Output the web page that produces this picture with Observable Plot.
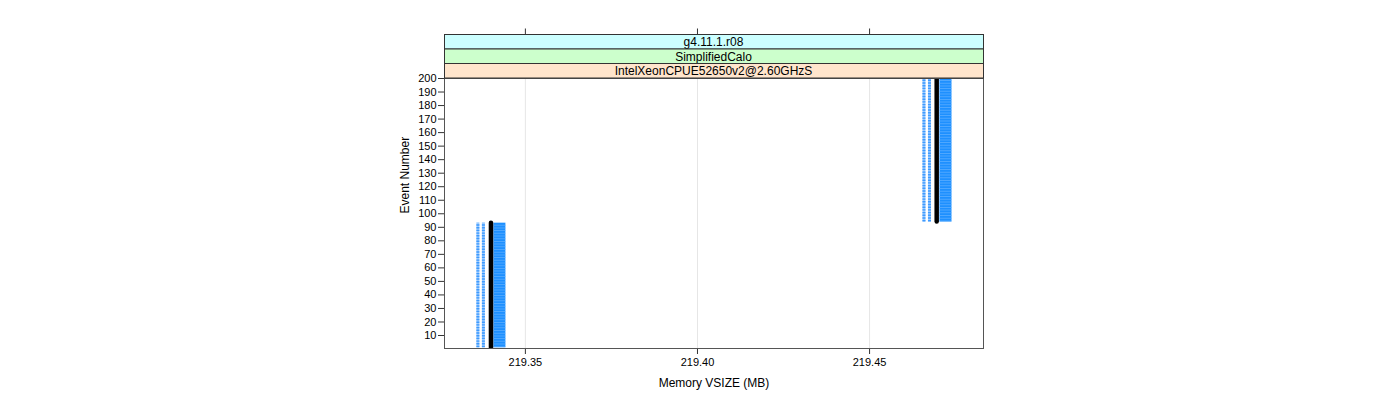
<!DOCTYPE html>
<html>
<head>
<meta charset="utf-8">
<script src="https://cdn.jsdelivr.net/npm/d3@7"></script>
<script src="https://cdn.jsdelivr.net/npm/@observablehq/plot@0.6"></script>
<style>
  body { margin: 0; background: #fff; }
  #chart svg { display: block; }
</style>
</head>
<body>
<div id="chart"></div>
<script>
// Strip labels (top to bottom)
const stripLabels = ["g4.11.1.r08", "SimplifiedCalo", "IntelXeonCPUE52650v2@2.60GHzS"];
const stripColors = ["#ccffff", "#ccffcc", "#ffe5cc"];

// X ticks
const xTicks = [219.35, 219.40, 219.45];
// Y ticks
const yTicks = [10, 20, 30, 40, 50, 60, 70, 80, 90, 100, 110, 120, 130, 140, 150, 160, 170, 180, 190, 200];

// Event ranges of the two memory plateaus
const segStart = [1, 94];
const segEnd = [93, 200];
// Memory values (MB) per series, per plateau
const runA = [219.3362, 219.4658];     // light dashed
const runB = [219.3378, 219.4674];     // light dashed
const meanV = [219.3400, 219.4695];    // black
const bandLo = [219.3407, 219.4703];   // blue band
const bandHi = [219.3442, 219.4738];

const segs = segStart.map((s, i) => ({
  y1: s, y2: segEnd[i], a: runA[i], b: runB[i], m: meanV[i], lo: bandLo[i], hi: bandHi[i],
  c: (bandLo[i] + bandHi[i]) / 2
}));

const font = "'Liberation Sans', Arial, Helvetica, sans-serif";

const decor = (index, scales, values, dimensions) => {
  const {marginLeft, marginTop, width, marginRight} = dimensions;
  const x0 = marginLeft, x1 = width - marginRight;
  const g = d3.create("svg:g");
  const sh = 14.5;
  const top = marginTop - 3 * sh;
  g.selectAll("line.tt").data(xTicks).join("line")
    .attr("x1", d => scales.x(d) + 0.5).attr("x2", d => scales.x(d) + 0.5)
    .attr("y1", top - 6).attr("y2", top)
    .attr("stroke", "#333");
  stripLabels.forEach((lab, i) => {
    const y = top + i * sh;
    g.append("rect").attr("x", x0 + 0.5).attr("y", y).attr("width", x1 - x0).attr("height", sh)
      .attr("fill", stripColors[i]).attr("stroke", "#333").attr("stroke-width", 1);
    g.append("text").attr("x", (x0 + x1) / 2).attr("y", y + sh / 2 + 4.5)
      .attr("text-anchor", "middle").attr("font-family", font).attr("font-size", 12)
      .attr("fill", "#000").text(lab);
  });
  return g.node();
};

const frame = (index, scales, values, dimensions) => {
  const {marginLeft, marginTop, width, height, marginRight, marginBottom} = dimensions;
  const g = d3.create("svg:g");
  g.append("rect").attr("x", marginLeft + 0.5).attr("y", marginTop + 0.5)
    .attr("width", width - marginRight - marginLeft).attr("height", height - marginBottom - marginTop)
    .attr("fill", "none").attr("stroke", "#555");
  return g.node();
};

const chart = Plot.plot({
  width: 1400,
  height: 400,
  marginLeft: 444,
  marginRight: 417,
  marginTop: 78,
  marginBottom: 52,
  style: {fontFamily: font, fontSize: "11px", background: "#fff", color: "#000"},
  x: {domain: [219.3265, 219.4831], label: null},
  y: {domain: [0.4, 200], label: null},
  marks: [
    Plot.ruleX(xTicks, {stroke: "#e6e6e6", strokeOpacity: 1}),
    Plot.ruleX(segs, {x: "c", y1: "y1", y2: "y2", stroke: "#1e90ff", strokeWidth: 12}),
    Plot.ruleX(segs, {x: "c", y1: "y1", y2: "y2", stroke: "#62b0ff", strokeWidth: 12, strokeDasharray: "1,1.7", strokeOpacity: 0.7}),
    Plot.ruleX(segs, {x: "a", y1: "y1", y2: "y2", stroke: "#9ccbff", strokeWidth: 3}),
    Plot.ruleX(segs, {x: "a", y1: "y1", y2: "y2", stroke: "#3d9aff", strokeWidth: 3, strokeDasharray: "1.4,1.3"}),
    Plot.ruleX(segs, {x: "b", y1: "y1", y2: "y2", stroke: "#9ccbff", strokeWidth: 3}),
    Plot.ruleX(segs, {x: "b", y1: "y1", y2: "y2", stroke: "#3d9aff", strokeWidth: 3, strokeDasharray: "1.4,1.3"}),
    Plot.ruleX(segs, {x: "m", y1: "y1", y2: "y2", stroke: "#000", strokeWidth: 4.5, strokeLinecap: "round", clip: "frame"}),
    Plot.axisX(xTicks, {tickSize: 6, tickPadding: 4, tickFormat: d3.format(".2f"), stroke: "#333", fontSize: 11, label: null}),
    Plot.axisY(yTicks, {tickSize: 6, tickPadding: 2, stroke: "#333", fontSize: 11, label: null}),
    Plot.text(["Memory VSIZE (MB)"], {frameAnchor: "bottom", dy: 38, fontSize: 12, fill: "#000"}),
    Plot.text(["Event Number"], {frameAnchor: "left", dx: -39, rotate: -90, fontSize: 12, fill: "#000"}),
    frame,
    decor
  ]
});
document.getElementById("chart").append(chart);
</script>
</body>
</html>
